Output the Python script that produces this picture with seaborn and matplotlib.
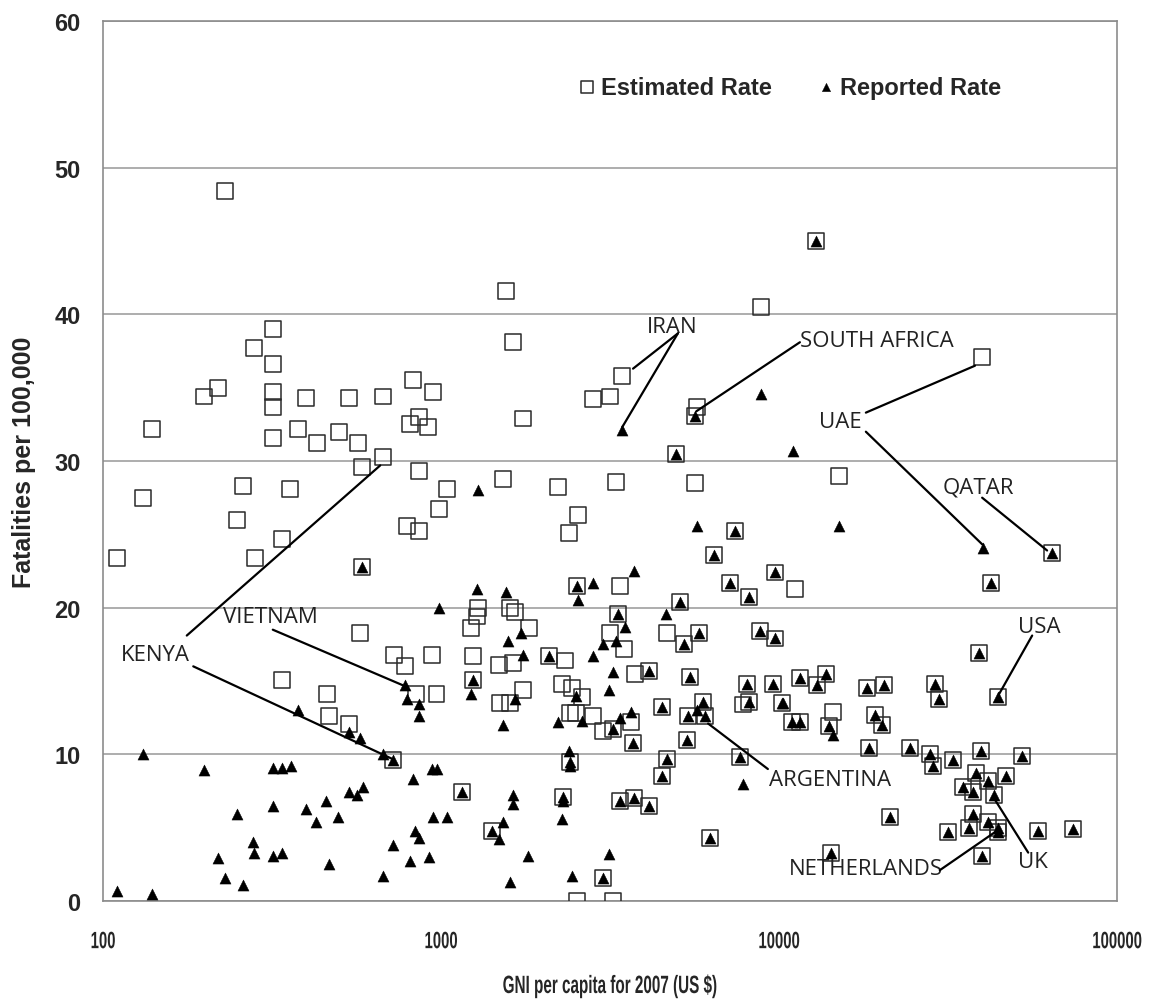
import matplotlib
matplotlib.use("Agg")
import matplotlib.pyplot as plt
from matplotlib.ticker import NullLocator
from matplotlib.patheffects import AbstractPathEffect
from matplotlib.transforms import Affine2D
import pandas as pd
import seaborn as sns

# Estimated rate only (open squares)
est_only_gni = [110, 131, 140, 230, 318, 280, 318, 219, 199, 318, 318, 398, 534, 673, 826, 947, 861, 809, 916,
                318, 378, 430, 499, 568, 673, 583, 861, 1040, 986, 793, 861, 259, 357, 249, 339, 282, 576, 726,
                782, 940, 339, 460, 466, 534, 844, 970,
                1557, 8850, 1634, 3435, 2818, 3160, 1750, 5714, 39900,
                1525, 2219, 3296, 5640, 2543, 2393, 11150, 3388, 1286, 1277, 1600, 1656, 1227, 1819, 3160, 3477,
                4663, 1245, 1485, 1634, 2330, 3750, 1750, 2280, 2440, 1497, 1600, 2613, 2410, 2506, 2818, 3015,
                3650, 7830, 2523, 3230,
                15000, 14450]
est_only_rate = [23.4, 27.5, 32.2, 48.4, 39.0, 37.7, 36.6, 35.0, 34.4, 34.7, 33.7, 34.3, 34.3, 34.4, 35.5, 34.7, 33.0, 32.5, 32.3,
                 31.6, 32.2, 31.2, 32.0, 31.2, 30.3, 29.6, 29.3, 28.1, 26.7, 25.6, 25.2, 28.3, 28.1, 26.0, 24.7, 23.4, 18.3, 16.8,
                 16.0, 16.8, 15.1, 14.1, 12.6, 12.1, 14.1, 14.1,
                 41.6, 40.5, 38.1, 35.8, 34.2, 34.4, 32.9, 33.7, 37.1,
                 28.8, 28.2, 28.6, 28.5, 26.3, 25.1, 21.3, 21.5, 20.0, 19.4, 20.0, 19.7, 18.6, 18.6, 18.3, 17.2,
                 18.3, 16.7, 16.1, 16.2, 16.4, 15.5, 14.4, 14.8, 14.5, 13.5, 13.5, 13.9, 12.8, 12.8, 12.6, 11.6,
                 12.2, 13.4, 0.0, 0.0,
                 29.0, 12.9]

# Countries with both an estimated and a reported rate
both_gni = [583, 721, 5640, 12860, 4950,
            7410, 6427, 9730, 7161, 8150, 2523, 3340, 5100, 5800, 5230, 8790, 9730, 2090, 4120, 5450, 1245,
            8040, 9600, 3230, 3700, 4510, 5380, 5960, 6040, 5350, 4663, 4510, 7670, 8150, 10200, 2410, 1154,
            2296, 1415, 3388, 3724, 4120, 6250, 3015,
            64300, 42400, 39100, 11500, 13770, 18200, 20500, 29000, 12940, 29700, 44500, 10900, 11500, 14060,
            19230, 20200, 18460, 24400, 28000, 28600, 32700, 39600, 52400, 38300, 35000, 37500, 41500, 47000,
            43300, 37500, 31600, 36500, 41500, 44500, 44500, 58300, 74100, 14260, 39900, 21300]
both_rate = [22.8, 9.6, 33.1, 45.0, 30.5,
             25.2, 23.6, 22.4, 21.7, 20.7, 21.5, 19.6, 20.4, 18.3, 17.5, 18.4, 17.9, 16.7, 15.7, 15.3, 15.1,
             14.8, 14.8, 11.7, 10.8, 13.2, 12.6, 13.6, 12.6, 11.0, 9.7, 8.5, 9.8, 13.6, 13.5, 9.5, 7.4,
             7.1, 4.8, 6.8, 7.0, 6.5, 4.3, 1.6,
             23.7, 21.7, 16.9, 15.2, 15.5, 14.5, 14.7, 14.8, 14.7, 13.8, 13.9, 12.2, 12.2, 11.9,
             12.7, 12.0, 10.4, 10.4, 10.0, 9.2, 9.6, 10.2, 9.9, 8.7, 7.8, 7.4, 8.2, 8.5,
             7.2, 5.9, 4.7, 5.0, 5.4, 5.0, 4.7, 4.8, 4.9, 3.3, 3.1, 5.7]

# Reported rate only (filled triangles)
rep_only_gni = [131, 199, 318, 339, 360, 249, 318, 398, 457, 427, 496, 534, 564, 587, 278, 280, 219, 318, 339, 229,
                259, 110, 140, 466, 721, 673, 809, 921, 837, 861, 826, 947, 1040, 940, 970, 378, 534, 576, 673, 782,
                793, 861, 861, 986,
                3435, 8850, 1286, 5714, 3724, 2818, 2543, 1277, 1557, 1727, 1578, 3500, 3015, 3296, 4630, 1750,
                2818, 3230, 1227, 1656, 1525, 2506, 2613, 2219, 3140, 3388, 3650, 5714, 7830, 10270, 2393, 2410,
                1634, 1634, 2296, 1525, 1485, 2280, 1807, 3140, 2440, 1600,
                11000, 15000, 40000, 14450]
rep_only_rate = [10.0, 8.9, 9.1, 9.1, 9.2, 5.9, 6.5, 6.3, 6.8, 5.4, 5.7, 7.4, 7.2, 7.8, 4.0, 3.3, 2.9, 3.1, 3.3, 1.6,
                 1.1, 0.7, 0.5, 2.5, 3.8, 1.7, 2.7, 3.0, 4.8, 4.3, 8.3, 5.7, 5.7, 9.0, 9.0, 13.0, 11.5, 11.1, 10.0, 14.7,
                 13.8, 13.4, 12.6, 20.0,
                 32.1, 34.6, 28.0, 25.6, 22.5, 21.7, 20.5, 21.3, 21.1, 18.3, 17.7, 18.7, 17.5, 17.7, 19.6, 16.8,
                 16.7, 15.6, 14.1, 13.8, 12.0, 14.0, 12.3, 12.2, 14.4, 12.5, 12.9, 13.0, 8.0, 13.5, 10.2, 9.2,
                 7.2, 6.6, 6.8, 5.4, 4.2, 5.6, 3.1, 3.2, 1.7, 1.3,
                 30.7, 25.6, 24.1, 11.3]

# Country call-outs: label, label centre, leader lines (from, to)
labels = [
    ("IRAN", (4820, 39.2), [((5020, 38.7), (3700, 36.3)), ((5020, 38.7), (3435, 32.3))]),
    ("SOUTH AFRICA", (19500, 38.2), [((11530, 38.1), (5700, 33.4))]),
    ("UAE", (15150, 32.7), [((18070, 33.3), (38000, 36.5)), ((18070, 32.0), (40000, 24.3))]),
    ("QATAR", (38800, 28.2), [((39900, 27.5), (62100, 23.9))]),
    ("USA", (58700, 18.7), [((56100, 18.1), (44500, 14.0))]),
    ("KENYA", (143, 16.8), [((177, 18.1), (661, 29.7)), ((185, 16.0), (716, 9.7))]),
    ("VIETNAM", (312, 19.4), [((318, 18.5), (773, 14.7))]),
    ("ARGENTINA", (14160, 8.3), [((9270, 9.0), (6170, 12.1))]),
    ("NETHERLANDS", (18030, 2.2), [((29900, 2.1), (44200, 4.8))]),
    ("UK", (56400, 2.7), [((54600, 3.3), (43000, 7.1))]),
]


class Squeeze(AbstractPathEffect):
    """Narrow a text horizontally about its centre (the x-axis text is condensed)."""

    def __init__(self, fx):
        super().__init__()
        self.fx = fx

    def draw_path(self, renderer, gc, tpath, affine, rgbFace=None):
        ext = tpath.get_extents(affine)
        cx = (ext.x0 + ext.x1) / 2
        aff = affine + Affine2D().translate(-cx, 0).scale(self.fx, 1).translate(cx, 0)
        renderer.draw_path(gc, tpath, aff, rgbFace)


est = pd.DataFrame({"gni": est_only_gni + both_gni, "rate": est_only_rate + both_rate})
rep = pd.DataFrame({"gni": both_gni + rep_only_gni, "rate": both_rate + rep_only_rate})

sns.set_style("white")
plt.rcParams["font.family"] = ["Liberation Sans", "DejaVu Sans"]

fig, ax = plt.subplots(figsize=(11.62, 10.03), dpi=100)
fig.subplots_adjust(left=0.0886, right=0.9613, top=0.978, bottom=0.1007)

sns.scatterplot(data=est, x="gni", y="rate", marker="s", s=132, facecolors="none",
                edgecolor="#2a2a2a", linewidth=1.1, label="Estimated Rate", ax=ax, zorder=3)
sns.scatterplot(data=rep, x="gni", y="rate", marker="^", s=64, color="black",
                edgecolor="black", linewidth=0.3, label="Reported Rate", ax=ax, zorder=4)

ax.set_xscale("log")
ax.set_xlim(100, 100000)
ax.set_ylim(0, 60)
ax.set_xticks([100, 1000, 10000, 100000])
ax.set_xticklabels(["100", "1000", "10000", "100000"])
ax.xaxis.set_minor_locator(NullLocator())
ax.set_yticks(range(0, 61, 10))
ax.yaxis.grid(True, color="#a0a0a0", linewidth=1.2)
ax.xaxis.grid(False)
ax.set_axisbelow(True)
for sp in ax.spines.values():
    sp.set_color("#8c8c8c")
    sp.set_linewidth(1.2)

ax.tick_params(axis="x", direction="out", length=6, width=1.2, color="#8c8c8c", pad=15)
ax.tick_params(axis="y", direction="out", length=5, width=1.2, color="#8c8c8c", pad=11)
squeeze = Squeeze(0.63)
for lab in ax.get_xticklabels():
    lab.set_fontweight("bold")
    lab.set_fontsize(17)
    lab.set_path_effects([squeeze])
for lab in ax.get_yticklabels():
    lab.set_fontweight("bold")
    lab.set_fontsize(17)

xl = ax.set_xlabel("GNI per capita for 2007 (US $)", fontsize=18, fontweight="bold", labelpad=15)
xl.set_path_effects([Squeeze(0.61)])
ax.set_ylabel("Fatalities per 100,000", fontsize=18, fontweight="bold", labelpad=13)

for name, (tx, ty), lines in labels:
    ax.text(tx, ty, name, ha="center", va="center", fontsize=16,
            family=["Open Sans", "DejaVu Sans"], color="#222222", zorder=5)
    for (x0, y0), (x1, y1) in lines:
        ax.plot([x0, x1], [y0, y1], color="black", linewidth=1.6, zorder=5)

leg = ax.legend(loc="center", bbox_to_anchor=(0.678, 0.925), ncol=2, frameon=False,
                handlelength=0.6, handletextpad=0.3, columnspacing=2.0, markerscale=0.75,
                prop={"weight": "bold", "size": 17})

fig.savefig("out.png", dpi=100)
